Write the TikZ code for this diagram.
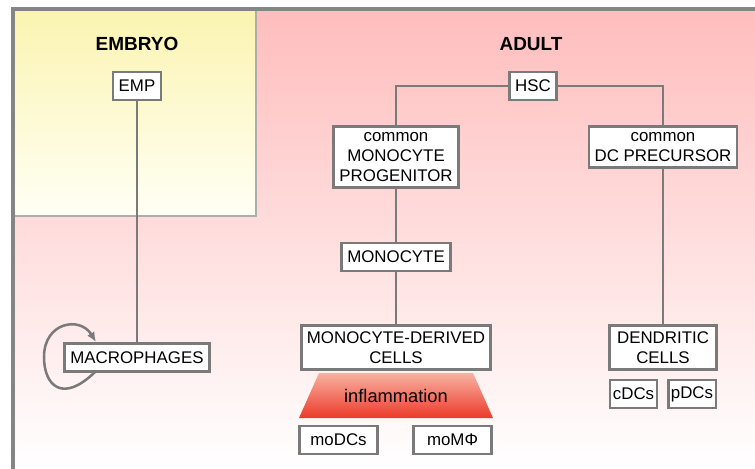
\documentclass[tikz,border=0pt]{standalone}
\usepackage{fontspec}
\setmainfont{Liberation Sans}
\usetikzlibrary{arrows.meta}
\definecolor{linegray}{HTML}{7A7A7A}
\definecolor{framegray}{HTML}{858585}
\definecolor{adultpink}{HTML}{FFBDBD}
\definecolor{embryoyellow}{HTML}{FBF4B0}
\definecolor{inflred}{HTML}{EC3A2A}
\definecolor{inflpale}{HTML}{F8B2A2}

\begin{document}
\begin{tikzpicture}[x=0.025cm,y=-0.025cm,font=\fontsize{12}{14}\selectfont,>={Latex[length=7pt,width=6pt]},
 cell/.style={draw=linegray,line width=2pt,fill=white,align=center,inner xsep=4pt,inner ysep=4.5pt,minimum height=20pt},
 link/.style={draw=linegray,line width=2pt},
 title/.style={font=\fontsize{13.5}{16}\selectfont\bfseries}]
\clip (0,0) rectangle (755,468);
% backgrounds
\shade[top color=adultpink,bottom color=white] (13,9) rectangle (760,470);
\shade[top color=embryoyellow,bottom color=yellow!4] (13,9) rectangle (256,216);
\draw[draw=black!32,line width=1.6pt] (13,216) -- (256,216) -- (256,9);
\draw[draw=framegray,line width=2.2pt] (13,475) -- (13,9) -- (760,9);
\node[title] (embryo) at (137,44) {EMBRYO};
\node[title] (adult) at (531,44) {ADULT};
% embryo branch
\node[cell] (emp) at (137,86) {EMP};
\node[cell] (mac) at (137,357.5) {MACROPHAGES};
% adult branch
\node[cell] (hsc) at (533,86) {HSC};
\node[cell,minimum width=88pt] (cmp) at (396,157) {common\\MONOCYTE\\PROGENITOR};
\node[cell] (cdp) at (663,147) {common\\DC PRECURSOR};
\node[cell] (mono) at (396,257) {MONOCYTE};
\node[cell] (mdc) at (396,347.5) {MONOCYTE-DERIVED\\CELLS};
\node[cell,minimum width=76pt] (dc) at (663,347.5) {DENDRITIC\\CELLS};
\node[cell,inner xsep=2pt] (cdc) at (633.5,394) {cDCs};
\node[cell,inner xsep=2pt] (pdc) at (692,394) {pDCs};
\node[cell,minimum width=56pt] (modc) at (338.5,440) {moDCs};
\node[cell,minimum width=56pt] (momp) at (452.5,440) {moMΦ};
% inflammation
\shade[top color=inflpale,bottom color=inflred] (319,373) -- (473,373) -- (493,418) -- (299,418) -- cycle;
\node[font=\fontsize{13}{15}\selectfont] (infl) at (396,396) {inflammation};
% connectors
\draw[link] (emp) -- (mac);
\draw[link] (hsc.west) -| (cmp.north);
\draw[link] (hsc.east) -| (cdp.north);
\draw[link] (cmp) -- (mono);
\draw[link] (mono) -- (mdc);
\draw[link] (cdp) -- (dc);
% self renewal
\coordinate (loopA) at (95,372);
\coordinate (loopB) at (96,342);
\draw[draw=linegray,line width=1.8pt,->,color=linegray] (loopA) .. controls (62,404) and (44,385) .. (44,357) .. controls (44,322) and (80,316) .. (loopB);
\end{tikzpicture}
\end{document}
